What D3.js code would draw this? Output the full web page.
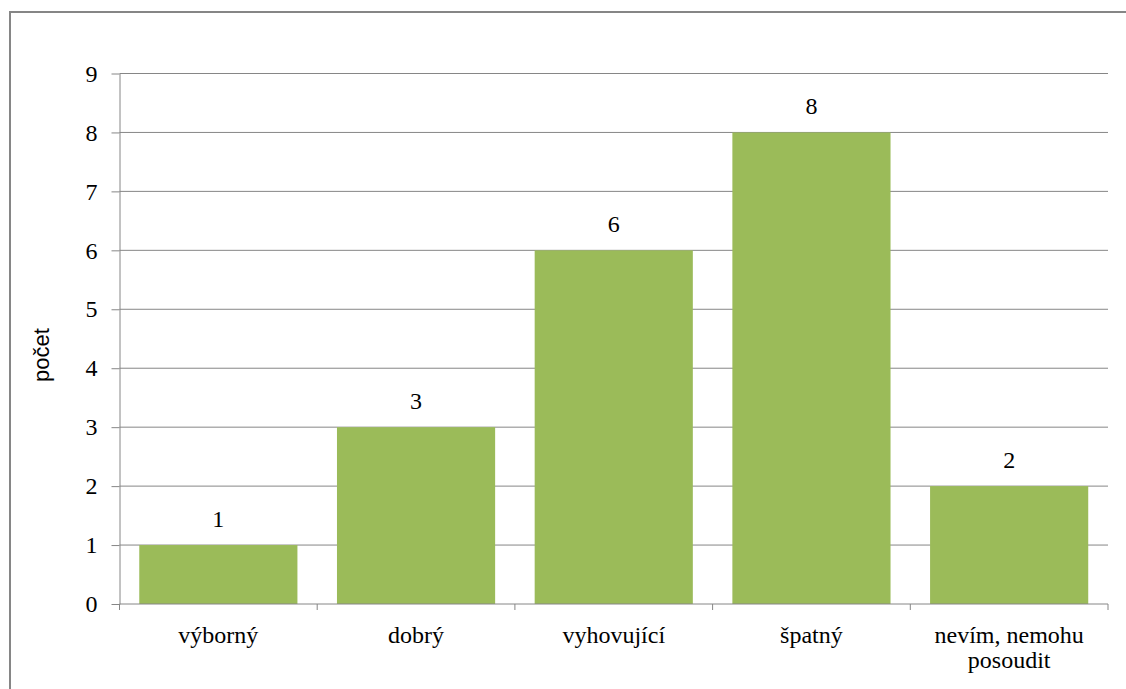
<!DOCTYPE html>
<meta charset="utf-8">
<style>
body { margin: 0; background: #fff; }
.grid line { stroke: #868686; stroke-width: 1; }
.axis path, .axis line { stroke: #868686; }
.serif { font-family: "Liberation Serif", Tinos, "Times New Roman", serif; }
.axis text { font-size: 24px; fill: #000; }
.bar { fill: #9BBB59; }
</style>
<body>
<script src="https://cdn.jsdelivr.net/npm/d3@7"></script>
<script>

// data
var categories = ["výborný", "dobrý", "vyhovující", "špatný", "nevím, nemohu posoudit"];
var counts = [1, 3, 6, 8, 2];
var yTicks = [0, 1, 2, 3, 4, 5, 6, 7, 8, 9];

var W = 1126, H = 689;
var margin = {top: 73.5, left: 119.5},
    width = 1108 - 119.5,
    height = 604 - 73.5;

var svg = d3.select("body").append("svg")
    .attr("width", W)
    .attr("height", H);

// outer frame
svg.append("rect")
    .attr("x", 10).attr("y", 12)
    .attr("width", 1130).attr("height", 700)
    .attr("fill", "none")
    .attr("stroke", "#868686")
    .attr("stroke-width", 2);

var g = svg.append("g")
    .attr("transform", "translate(" + margin.left + "," + margin.top + ")");

var x = d3.scaleBand()
    .domain(categories)
    .range([0, width])
    .paddingInner(0.2)
    .paddingOuter(0.1);

var y = d3.scaleLinear()
    .domain([0, 9])
    .range([height, 0]);

// gridlines
g.append("g")
    .attr("class", "grid")
  .selectAll("line")
    .data(yTicks.slice(1))
  .enter().append("line")
    .attr("x1", 0).attr("x2", width)
    .attr("y1", function(d) { return y(d); })
    .attr("y2", function(d) { return y(d); });

// bars
g.selectAll(".bar")
    .data(counts)
  .enter().append("rect")
    .attr("class", "bar")
    .attr("x", function(d, i) { return x(categories[i]); })
    .attr("width", x.bandwidth())
    .attr("y", function(d) { return y(d); })
    .attr("height", function(d) { return height - y(d); });

// value labels
g.selectAll(".val")
    .data(counts)
  .enter().append("text")
    .attr("class", "val serif")
    .attr("x", function(d, i) { return x(categories[i]) + x.bandwidth() / 2; })
    .attr("y", function(d) { return y(d) - 18; })
    .attr("text-anchor", "middle")
    .style("font-size", "24px")
    .text(function(d) { return d; });

// y axis
var yAxis = g.append("g")
    .attr("class", "axis")
    .call(d3.axisLeft(y).tickValues(yTicks).tickSize(8).tickSizeOuter(0).tickPadding(14));
yAxis.attr("font-family", null).attr("font-size", null);
yAxis.selectAll("text").attr("class", "serif");

// x axis with boundary ticks
var xAxis = g.append("g")
    .attr("class", "axis")
    .attr("transform", "translate(0," + height + ")");
xAxis.append("line")
    .attr("x1", 0).attr("x2", width)
    .attr("stroke", "#868686");
xAxis.selectAll(".bt")
    .data(d3.range(categories.length + 1))
  .enter().append("line")
    .attr("x1", function(d) { return d * x.step(); })
    .attr("x2", function(d) { return d * x.step(); })
    .attr("y1", 0).attr("y2", 6)
    .attr("stroke", "#868686");

xAxis.selectAll(".lbl")
    .data(categories)
  .enter().append("text")
    .attr("class", "serif")
    .attr("text-anchor", "middle")
    .attr("y", 39)
    .attr("transform", function(d) { return "translate(" + (x(d) + x.bandwidth() / 2) + ",0)"; })
    .each(function(d) {
      var t = d3.select(this);
      var lines = d === "nevím, nemohu posoudit" ? ["nevím, nemohu", "posoudit"] : [d];
      lines.forEach(function(l, i) {
        t.append("tspan").attr("x", 0).attr("dy", i === 0 ? 0 : 25).text(l);
      });
    });

// y axis title
svg.append("text")
    .attr("transform", "translate(49,355) rotate(-90)")
    .attr("text-anchor", "middle")
    .style("font-family", "'Liberation Sans', Arial, sans-serif")
    .style("font-size", "22px")
    .text("počet");

</script>
</body>
